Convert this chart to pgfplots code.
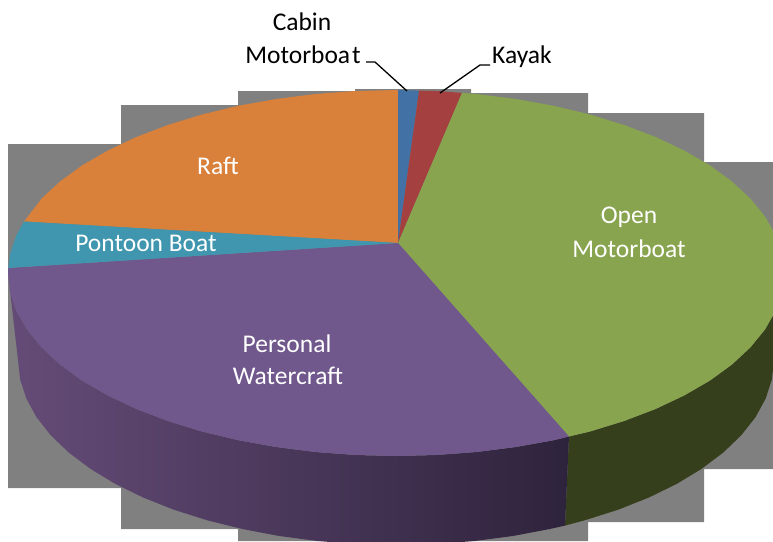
\documentclass[border=0pt]{standalone}
\usepackage{pgfplots}
\pgfplotsset{compat=1.18}
\usepackage{fontspec}
\setmainfont{Carlito}
\definecolor{bgg}{HTML}{808080}
\definecolor{cgreen}{HTML}{88A44F}
\definecolor{cpurple}{HTML}{70578C}
\definecolor{cteal}{HTML}{3F96AE}
\definecolor{corange}{HTML}{D9803A}
\definecolor{cblue}{HTML}{4271A6}
\definecolor{cred}{HTML}{A4403F}
\definecolor{dgreen}{HTML}{363F1C}
\definecolor{pl}{HTML}{654C78}
\definecolor{pm}{HTML}{4F3A5E}
\definecolor{pr}{HTML}{2E233C}
\begin{document}
\begin{tikzpicture}
\path[use as bounding box] (0,0) rectangle (773pt,541pt);
\begin{axis}[
  at={(0,0)}, anchor=south west,
  scale only axis, width=773pt, height=541pt,
  xmin=0, xmax=773, ymin=0, ymax=541, y dir=reverse,
  axis lines=none, ticks=none, clip=true,
  every axis plot/.append style={line join=round}
]
% grey stepped backdrop
\addplot[fill=bgg,draw=none] coordinates {(8,144)(121,144)(121,105)(238,105)(238,91)(355,91)(355,89)(471,89)(471,93)(588,93)(588,113)(704,113)(704,162)(773,162)(773,469)(704,469)(704,522)(588,522)(588,541)(238,541)(238,529)(121,529)(121,488)(8,488)} --cycle;
% side of the Open Motorboat slice
\addplot[fill=dgreen,draw=none] coordinates {(569,436.5)(590,431.5)(624.1,421)(655.6,409)(684.3,395.4)(709.9,380.6)(732,364.5)(750.4,347.4)(765,329.5)(775.5,311)(781.9,292.1)(784,273)(774,360)(771.9,379.3)(765.7,398.5)(755.5,417.2)(741.3,435.2)(723.3,452.5)(701.8,468.7)(676.9,483.8)(648.9,497.5)(618.2,509.7)(585,520.2)(565,525.6)} --cycle;
% side of the Personal Watercraft slice
\addplot[draw=none,left color=pl,middle color=pm,right color=pr] coordinates {(569,436.5)(553.8,440.2)(515.9,447)(476.7,452)(436.5,455)(396,456)(355.5,455)(315.3,452)(276.1,447)(238.2,440.2)(202,431.5)(167.9,421)(136.4,409)(107.7,395.4)(82.1,380.6)(60,364.5)(41.6,347.4)(27,329.5)(16.5,311)(10.1,292.1)(8,273)(18,360)(20.1,379.3)(26.3,398.5)(36.5,417.2)(50.7,435.2)(68.7,452.5)(90.2,468.7)(115.1,483.8)(143.1,497.5)(173.8,509.7)(207,520.2)(242.3,529)(279.2,536)(317.4,541)(356.5,544)(396,545)(435.5,544)(474.6,541)(512.8,536)(549.7,529)(565,525.6)} --cycle;
% top faces
\addplot[fill=corange,draw=none] coordinates {(398,243)(24,221.5)(41.6,198.6)(60,181.5)(82.1,165.4)(107.7,150.6)(136.4,137)(167.9,125)(202,114.5)(238.2,105.8)(276.1,99)(315.3,94)(355.5,91)(396,90)(398,90)} --cycle;
\addplot[fill=cblue,draw=none] coordinates {(398,243)(398,90)(419,90.6)} --cycle;
\addplot[fill=cred,draw=none] coordinates {(398,243)(419,90.6)(436.5,91)(462,92.9)} --cycle;
\addplot[fill=cgreen,draw=none] coordinates {(398,243)(462,92.9)(476.7,94)(515.9,99)(553.8,105.8)(590,114.5)(624.1,125)(655.6,137)(684.3,150.6)(709.9,165.4)(732,181.5)(750.4,198.6)(765,216.5)(775.5,235)(781.9,253.9)(784,273)(781.9,292.1)(775.5,311)(765,329.5)(750.4,347.4)(732,364.5)(709.9,380.6)(684.3,395.4)(655.6,409)(624.1,421)(590,431.5)(569,436.5)} --cycle;
\addplot[fill=cpurple,draw=none] coordinates {(398,243)(569,436.5)(553.8,440.2)(515.9,447)(476.7,452)(436.5,455)(396,456)(355.5,455)(315.3,452)(276.1,447)(238.2,440.2)(202,431.5)(167.9,421)(136.4,409)(107.7,395.4)(82.1,380.6)(60,364.5)(41.6,347.4)(27,329.5)(16.5,311)(10.1,292.1)(8,273)(8.3,268)} --cycle;
\addplot[fill=cteal,draw=none] coordinates {(398,243)(8.3,268)(10.1,253.9)(16.5,235)(24,221.5)} --cycle;
% leader lines
\addplot[black,line width=1.3pt] coordinates {(366,62)(375,62)(407,91)};
\addplot[black,line width=1.3pt] coordinates {(490,65)(480,65)(440,93)};
% labels
\tikzset{lab/.style={font=\fontsize{25.5}{30}\selectfont,inner sep=0pt,anchor=center}}
\node[lab,text=black] at (axis cs:302,22) {Cabin};
\node[lab,text=black] at (axis cs:303,55) {Motorboa\kern2pt t};
\node[lab,text=black] at (axis cs:522,57) {Kayak};
\node[lab,text=white] at (axis cs:218,166) {Raft};
\node[lab,text=white] at (axis cs:146,243) {Pontoon Boat};
\node[lab,text=white] at (axis cs:629,217) {Open};
\node[lab,text=white] at (axis cs:629,249) {Motorboat};
\node[lab,text=white] at (axis cs:287,344) {Personal};
\node[lab,text=white] at (axis cs:288,376) {Watercraft};
\end{axis}
\end{tikzpicture}
\end{document}
